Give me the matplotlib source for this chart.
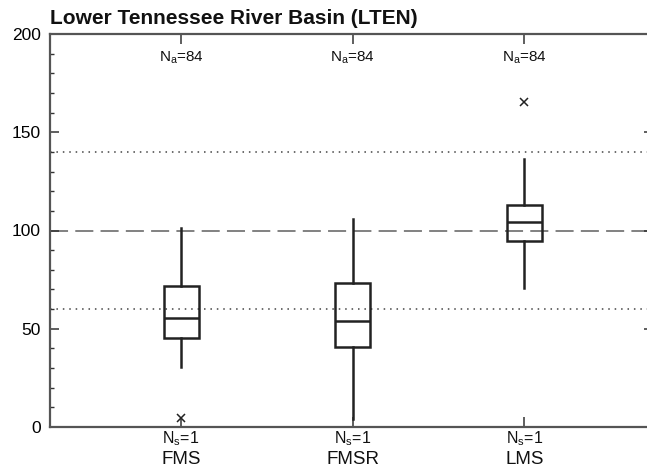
import matplotlib
matplotlib.use("Agg")
import matplotlib.pyplot as plt
import matplotlib.transforms as mtransforms
from matplotlib.ticker import MultipleLocator

plt.rcParams['font.family'] = ['Liberation Sans Narrow', 'Liberation Sans', 'DejaVu Sans']

# box summary stats
categories = ['FMS', 'FMSR', 'LMS']
n_all = [84, 84, 84]
n_sites = [1, 1, 1]
whisker_low = [30.7, 4.0, 70.9]
q1 = [45.4, 40.6, 94.7]
median = [55.6, 54.1, 104.5]
q3 = [71.9, 73.1, 113.1]
whisker_high = [101.1, 105.9, 136.4]
outliers = [[4.7], [], [165.2]]

ref_value = 100
ref_band = [60, 140]

fig = plt.figure(figsize=(6.47, 4.74), dpi=100)
ax = fig.add_axes([50 / 647, 1 - 427 / 474, 603 / 647, 393 / 474])

stats = []
for i, name in enumerate(categories):
    stats.append({
        'label': name,
        'whislo': whisker_low[i],
        'q1': q1[i],
        'med': median[i],
        'q3': q3[i],
        'whishi': whisker_high[i],
        'fliers': outliers[i],
    })

dark = '#222222'
positions = list(range(1, len(categories) + 1))

# reference lines first so boxes draw on top
ax.axhline(ref_value, color='#777777', lw=1.3, dashes=(10, 4), zorder=1)
for v in ref_band:
    ax.axhline(v, color='#444444', lw=1.1, dashes=(1, 3.2), zorder=1)

ax.bxp(stats, positions=positions, widths=0.205, showcaps=False,
       boxprops=dict(edgecolor=dark, linewidth=1.8, facecolor='none'),
       medianprops=dict(color=dark, linewidth=1.8),
       whiskerprops=dict(color=dark, linewidth=1.8),
       flierprops=dict(marker='x', markeredgecolor=dark, markersize=5.5, markeredgewidth=1.1),
       patch_artist=True, zorder=3)

ax.set_xlim(0.236, 3.75)
ax.set_ylim(0, 200)

ax.yaxis.set_major_locator(MultipleLocator(50))
ax.yaxis.set_minor_locator(MultipleLocator(10))
ax.set_xticks(positions)
ax.set_xticklabels([])
ax.tick_params(axis='y', which='major', direction='in', length=6.7, width=1.1,
               color='#333333', labelsize=12.5, right=True, pad=6.5)
ax.tick_params(axis='y', which='minor', direction='in', length=3, width=1.0,
               color='#333333', right=True)
ax.tick_params(axis='x', which='major', direction='in', length=7, width=1.1,
               color='#333333', top=True)

for s in ax.spines.values():
    s.set_color('#555555')
    s.set_linewidth(1.6)

trans = mtransforms.blended_transform_factory(ax.transData, ax.transAxes)
for i, name in enumerate(categories):
    x = positions[i]
    ax.text(x, 188, r'N$_\mathregular{a}$=%d' % n_all[i], ha='center', va='center',
            fontsize=11, color='#111111')
    ax.text(x, -12 / 393, r'N$_\mathregular{s}$=%d' % n_sites[i], ha='center', va='center',
            fontsize=11.5, color='#111111', transform=trans)
    ax.text(x, -33 / 393, name, ha='center', va='center',
            fontsize=13.5, color='#111111', transform=trans)

fig.text(50 / 647, 1 - 19 / 474, 'Lower Tennessee River Basin (LTEN)', ha='left', va='center',
         fontsize=15, fontweight='bold', color='#111111')

fig.savefig('out.png', dpi=100)
